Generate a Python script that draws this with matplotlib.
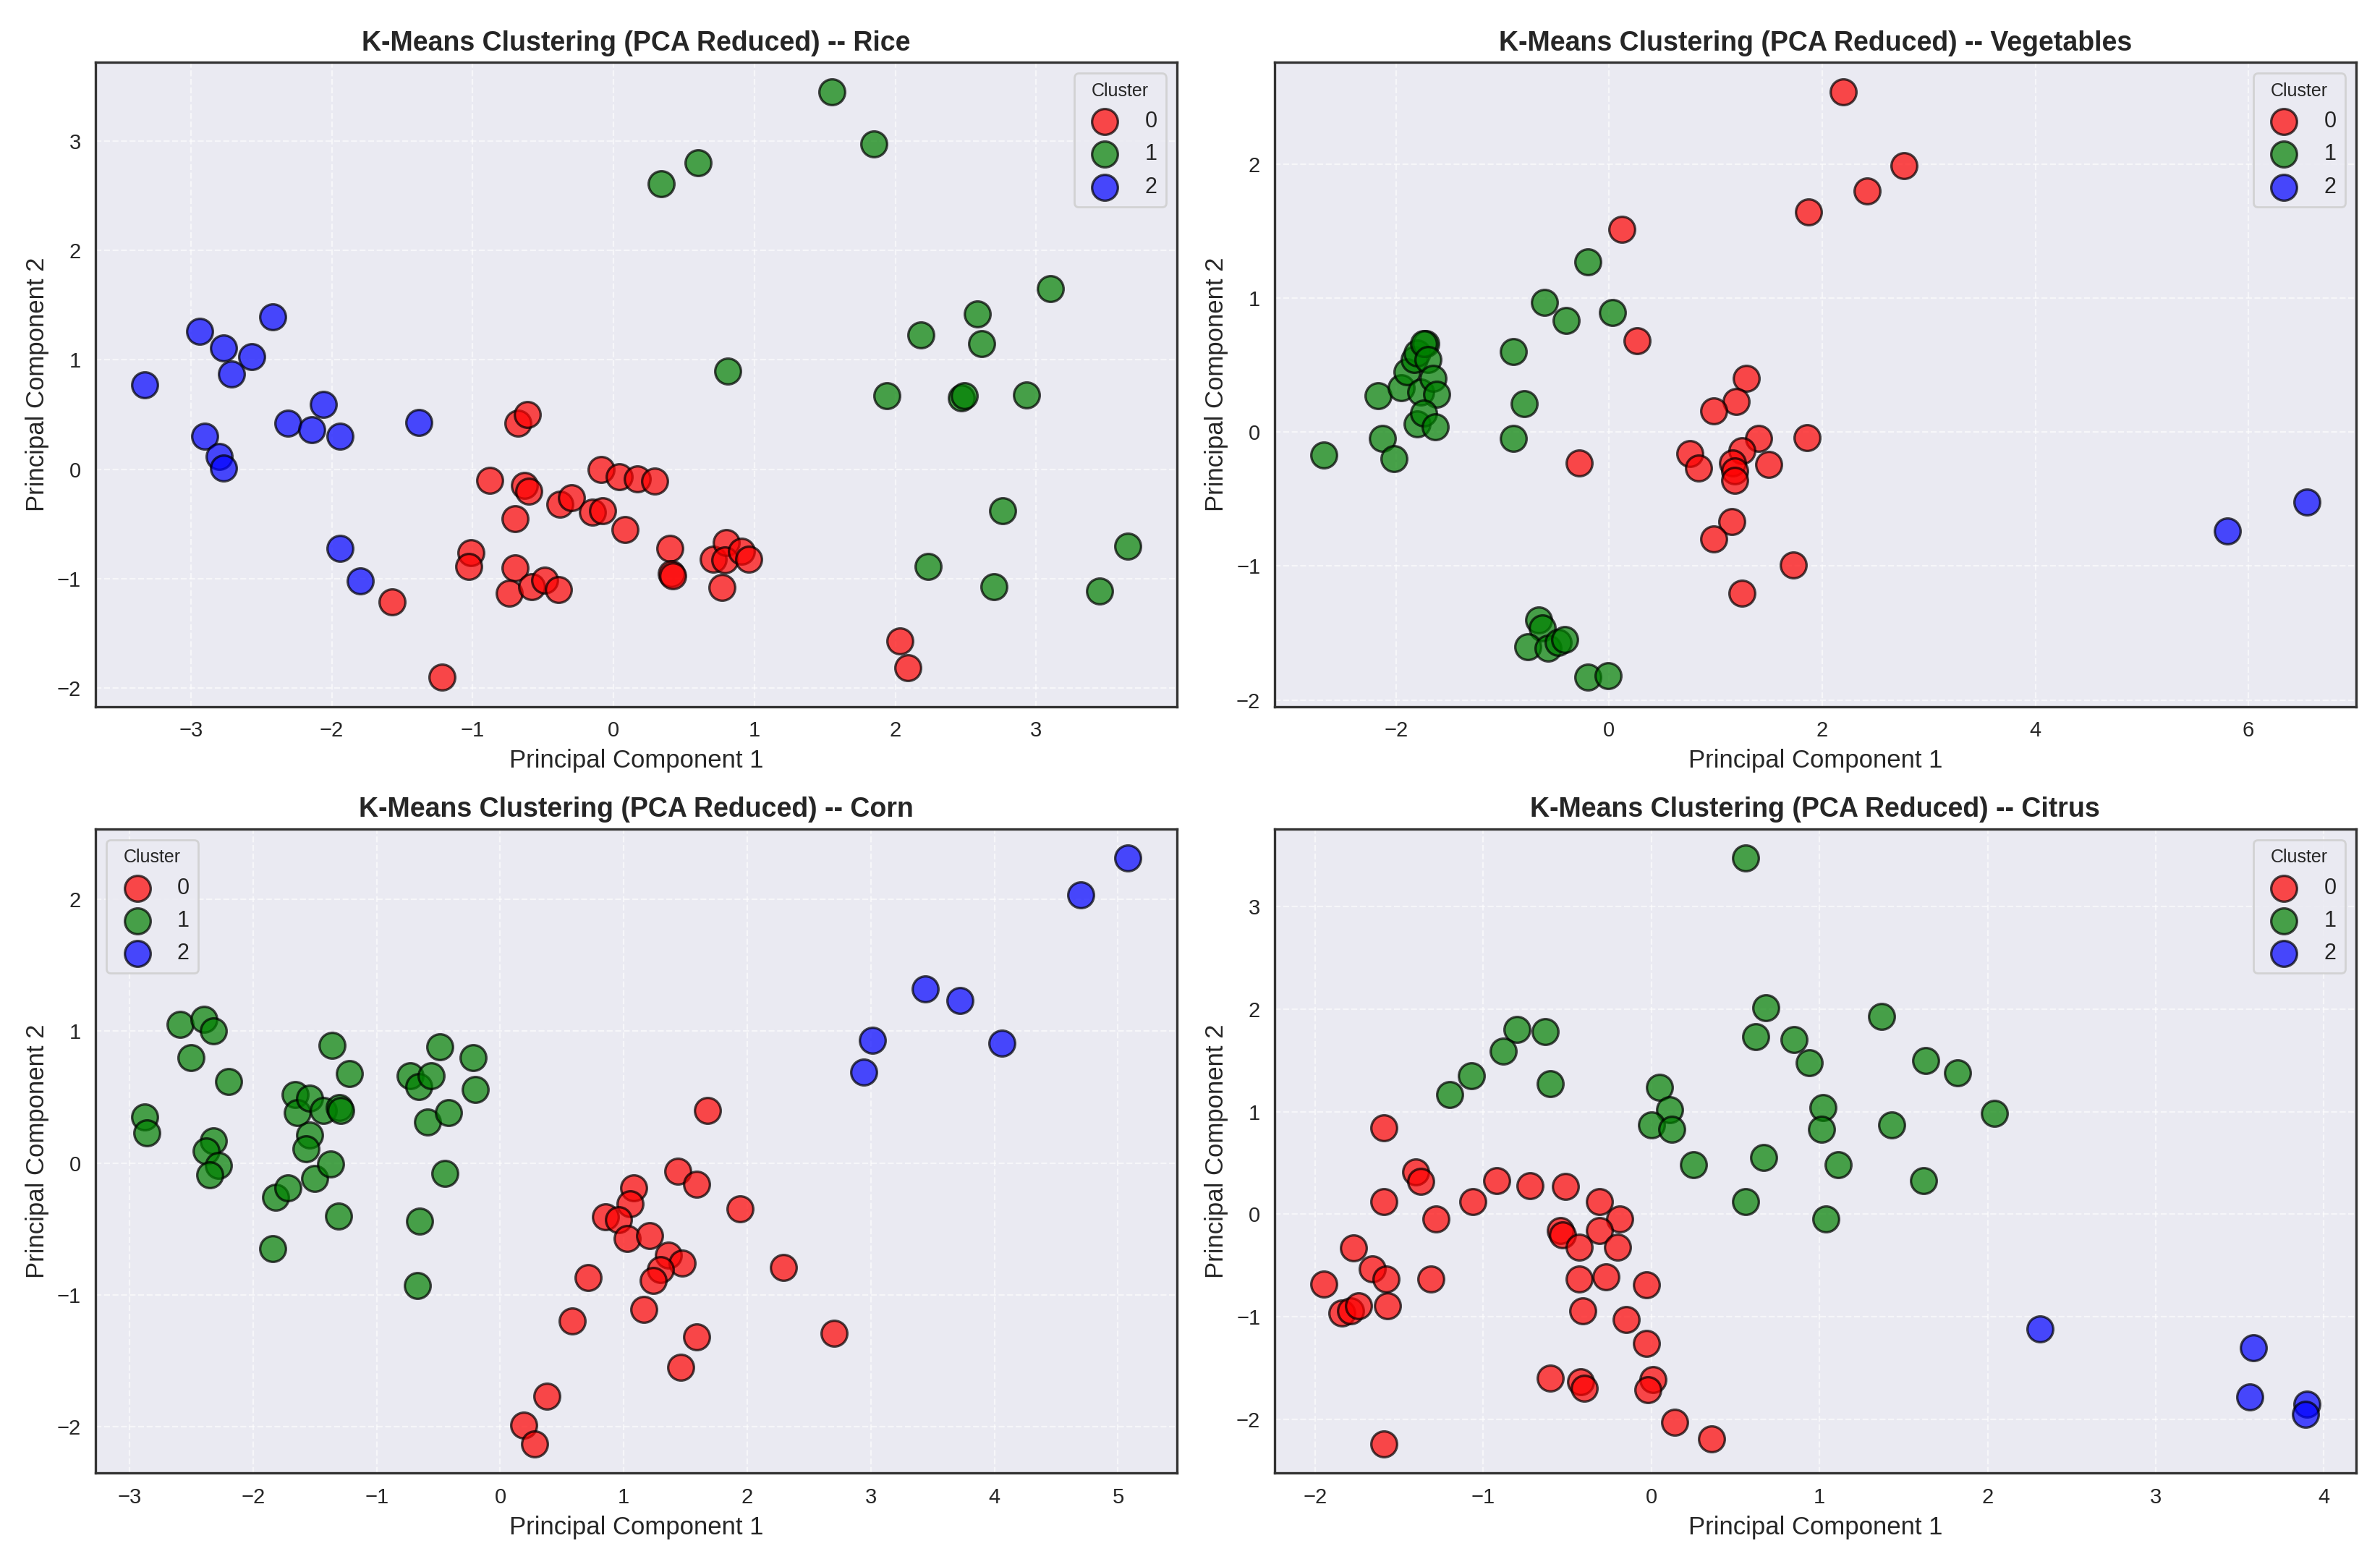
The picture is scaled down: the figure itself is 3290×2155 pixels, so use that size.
import numpy as np
import matplotlib
matplotlib.use("Agg")
import matplotlib.pyplot as plt
import seaborn as sns

# PCA scores, one list of (pc1, pc2) per cluster
rice_c0 = [(-1.57, -1.21), (-1.22, -1.90), (-1.01, -0.76), (-1.03, -0.89), (-0.88, -0.10),
           (-0.68, 0.42), (-0.61, 0.50), (-0.63, -0.15), (-0.60, -0.20), (-0.70, -0.45),
           (-0.70, -0.90), (-0.74, -1.13), (-0.58, -1.07), (-0.49, -1.01), (-0.39, -1.10),
           (-0.38, -0.32), (-0.30, -0.26), (-0.15, -0.39), (-0.08, -0.38), (-0.09, 0.00),
           (0.04, -0.07), (0.17, -0.09), (0.29, -0.11), (0.08, -0.55), (0.40, -0.72),
           (0.41, -0.95), (0.42, -0.97), (0.71, -0.82), (0.80, -0.67), (0.79, -0.83),
           (0.91, -0.75), (0.96, -0.82), (0.77, -1.08), (2.03, -1.57), (2.09, -1.81)]
rice_c1 = [(1.55, 3.45), (1.85, 2.97), (0.60, 2.80), (0.34, 2.61), (0.81, 0.90),
           (3.10, 1.65), (2.58, 1.42), (2.18, 1.23), (2.61, 1.15), (1.94, 0.67),
           (2.47, 0.65), (2.49, 0.67), (2.93, 0.68), (2.76, -0.38), (3.65, -0.70),
           (2.23, -0.89), (2.70, -1.07), (3.45, -1.11)]
rice_c2 = [(-3.33, 0.77), (-2.94, 1.26), (-2.77, 1.11), (-2.42, 1.39), (-2.57, 1.03),
           (-2.71, 0.87), (-2.90, 0.30), (-2.80, 0.12), (-2.77, 0.01), (-2.31, 0.42),
           (-2.14, 0.36), (-2.06, 0.59), (-1.94, 0.30), (-1.38, 0.43), (-1.94, -0.72),
           (-1.80, -1.02)]

veg_c0 = [(2.20, 2.54), (2.77, 1.99), (2.42, 1.80), (1.87, 1.64), (0.12, 1.51),
          (0.26, 0.68), (1.29, 0.40), (1.19, 0.23), (0.98, 0.16), (-0.28, -0.23),
          (0.76, -0.16), (0.84, -0.27), (1.40, -0.05), (1.25, -0.14), (1.16, -0.23),
          (1.18, -0.29), (1.18, -0.36), (1.50, -0.24), (1.86, -0.04), (1.15, -0.67),
          (0.98, -0.80), (1.73, -0.99), (1.25, -1.20)]
veg_c1 = [(-2.68, -0.17), (-2.17, 0.27), (-2.13, -0.05), (-2.02, -0.20), (-1.95, 0.33),
          (-1.90, 0.45), (-1.83, 0.54), (-1.80, 0.59), (-1.72, 0.66), (-1.74, 0.66),
          (-1.70, 0.54), (-1.77, 0.30), (-1.65, 0.40), (-1.62, 0.28), (-1.80, 0.06),
          (-1.74, 0.14), (-1.63, 0.04), (-0.90, 0.60), (-0.80, 0.21), (-0.90, -0.05),
          (-0.61, 0.97), (-0.40, 0.83), (-0.20, 1.27), (0.03, 0.89), (-0.66, -1.40),
          (-0.63, -1.46), (-0.76, -1.60), (-0.57, -1.61), (-0.48, -1.57), (-0.42, -1.55),
          (-0.20, -1.83), (-0.01, -1.82)]
veg_c2 = [(5.80, -0.74), (6.55, -0.52)]

corn_c0 = [(1.68, 0.40), (1.44, -0.06), (1.59, -0.16), (1.94, -0.35), (1.08, -0.19),
           (1.05, -0.31), (0.85, -0.41), (0.96, -0.43), (1.03, -0.57), (1.21, -0.55),
           (1.36, -0.70), (1.47, -0.76), (1.30, -0.81), (1.24, -0.89), (0.71, -0.87),
           (2.29, -0.79), (1.16, -1.11), (0.58, -1.20), (1.59, -1.32), (2.70, -1.29),
           (1.46, -1.55), (0.38, -1.77), (0.19, -1.99), (0.28, -2.13)]
corn_c1 = [(-2.88, 0.35), (-2.86, 0.23), (-2.59, 1.05), (-2.50, 0.80), (-2.40, 1.09),
           (-2.32, 1.00), (-2.20, 0.62), (-2.32, 0.17), (-2.38, 0.09), (-2.28, -0.02),
           (-2.35, -0.09), (-1.82, -0.26), (-1.72, -0.19), (-1.84, -0.65), (-1.66, 0.52),
           (-1.64, 0.38), (-1.54, 0.49), (-1.43, 0.40), (-1.30, 0.42), (-1.29, 0.40),
           (-1.54, 0.21), (-1.57, 0.11), (-1.50, -0.12), (-1.37, -0.01), (-1.31, -0.40),
           (-1.36, 0.89), (-1.22, 0.68), (-0.73, 0.66), (-0.66, 0.58), (-0.56, 0.66),
           (-0.49, 0.88), (-0.59, 0.31), (-0.42, 0.38), (-0.45, -0.08), (-0.22, 0.80),
           (-0.20, 0.56), (-0.65, -0.44), (-0.67, -0.93)]
corn_c2 = [(5.08, 2.31), (4.70, 2.03), (3.44, 1.32), (3.72, 1.23), (3.01, 0.93),
           (4.06, 0.91), (2.94, 0.69)]

citrus_c0 = [(-1.59, 0.84), (-1.40, 0.41), (-1.37, 0.32), (-1.59, 0.12), (-1.28, -0.05),
             (-1.06, 0.12), (-0.92, 0.33), (-0.72, 0.28), (-0.51, 0.27), (-0.31, 0.12),
             (-0.19, -0.05), (-0.54, -0.16), (-0.53, -0.20), (-0.31, -0.16), (-0.43, -0.32),
             (-0.20, -0.32), (-1.77, -0.33), (-1.66, -0.53), (-1.58, -0.63), (-1.31, -0.63),
             (-1.95, -0.68), (-1.84, -0.96), (-1.79, -0.94), (-1.74, -0.89), (-1.57, -0.89),
             (-0.43, -0.63), (-0.27, -0.61), (-0.03, -0.69), (-0.41, -0.94), (-0.15, -1.03),
             (-0.03, -1.26), (-0.60, -1.60), (-0.42, -1.63), (-0.40, -1.70), (0.01, -1.61),
             (-0.02, -1.71), (0.14, -2.03), (0.36, -2.19), (-1.59, -2.24)]
citrus_c1 = [(0.56, 3.47), (0.68, 2.01), (1.37, 1.93), (0.62, 1.73), (0.85, 1.70),
             (0.94, 1.48), (1.63, 1.50), (1.82, 1.38), (2.04, 0.98), (-0.80, 1.80),
             (-0.63, 1.78), (-0.88, 1.59), (-1.07, 1.35), (-1.20, 1.17), (-0.60, 1.27),
             (0.05, 1.24), (0.11, 1.02), (0.00, 0.87), (0.12, 0.83), (1.02, 1.04),
             (1.01, 0.83), (1.43, 0.87), (0.25, 0.48), (0.67, 0.55), (1.11, 0.48),
             (1.62, 0.33), (0.56, 0.12), (1.04, -0.05)]
citrus_c2 = [(2.31, -1.12), (3.58, -1.30), (3.56, -1.78), (3.90, -1.85), (3.89, -1.95)]

crops = ["Rice", "Vegetables", "Corn", "Citrus"]
crop_clusters = [
    [rice_c0, rice_c1, rice_c2],
    [veg_c0, veg_c1, veg_c2],
    [corn_c0, corn_c1, corn_c2],
    [citrus_c0, citrus_c1, citrus_c2],
]
cluster_labels = ["0", "1", "2"]
cluster_colors = ["red", "green", "blue"]
legend_locs = ["upper right", "upper right", "upper left", "upper right"]

sns.set_style("darkgrid")
plt.rcParams['font.family'] = ['Liberation Sans', 'DejaVu Sans']

fig, axes = plt.subplots(2, 2, figsize=(16.45, 10.775), dpi=200)
fig.subplots_adjust(left=0.04, right=0.99, top=0.96, bottom=0.055, wspace=0.09, hspace=0.19)

for ax, crop, clusters, loc in zip(axes.flat, crops, crop_clusters, legend_locs):
    for k, pts in enumerate(clusters):
        xy = np.array(pts)
        ax.scatter(xy[:, 0], xy[:, 1], s=165, c=cluster_colors[k], alpha=0.7,
                   edgecolor="black", linewidth=1.2, label=cluster_labels[k])
    ax.set_title(f"K-Means Clustering (PCA Reduced) -- {crop}", fontsize=13.5, fontweight="bold")
    ax.set_xlabel("Principal Component 1", fontsize=12.5)
    ax.set_ylabel("Principal Component 2", fontsize=12.5)
    ax.tick_params(labelsize=10.5)
    ax.grid(True, linestyle="--", alpha=0.6)
    for sp in ax.spines.values():
        sp.set_visible(True)
        sp.set_color("0.2")
        sp.set_linewidth(1.2)
    ax.legend(title="Cluster", loc=loc, fontsize=11, title_fontsize=9)

plt.savefig("out.png", dpi=200)
